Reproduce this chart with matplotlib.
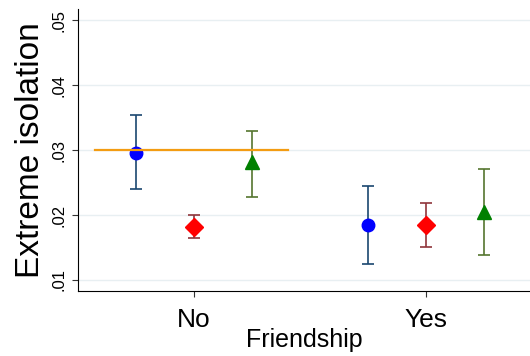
import matplotlib
matplotlib.use("Agg")
import matplotlib.pyplot as plt
import numpy as np

plt.rcParams['font.family'] = ['Liberation Sans', 'DejaVu Sans']

# data
categories = ["No", "Yes"]
offsets = [-0.25, 0.0, 0.25]
means = [
    [0.0296, 0.0185],   # blue circles
    [0.0182, 0.0185],   # red diamonds
    [0.0281, 0.0204],   # green triangles
]
lower = [
    [0.0240, 0.0124],
    [0.0164, 0.0150],
    [0.0227, 0.0138],
]
upper = [
    [0.0354, 0.0244],
    [0.0200, 0.0218],
    [0.0329, 0.0271],
]
ref_line_y = 0.030
ref_line_x = [-0.425, 0.405]

marker_colors = ["#0000ff", "#ff0000", "#008000"]
bar_colors = ["#1a476f", "#90353b", "#55752f"]
markers = ["o", "D", "^"]
msizes = [9, 9, 10]

fig = plt.figure(figsize=(5.3, 3.56), dpi=100)
ax = fig.add_axes([78 / 530, 1 - 291 / 356, 1 - 78 / 530, (291 - 9) / 356])

x = np.arange(len(categories))
for i in range(3):
    m = np.array(means[i])
    err = [m - np.array(lower[i]), np.array(upper[i]) - m]
    ax.errorbar(x + offsets[i], m, yerr=err, fmt="none", ecolor=bar_colors[i],
                elinewidth=1.2, capsize=4, capthick=1.2, zorder=2)
    ax.plot(x + offsets[i], m, linestyle="none", marker=markers[i], color=marker_colors[i],
            markersize=msizes[i], zorder=3)

ax.plot(ref_line_x, [ref_line_y, ref_line_y], color="#f39c12", linewidth=1.6, zorder=4)

ax.set_xlim(-0.498, 1.448)
ax.set_ylim(0.0083, 0.0517)
ax.set_yticks([0.01, 0.02, 0.03, 0.04, 0.05])
ax.set_yticklabels([".01", ".02", ".03", ".04", ".05"], rotation=90, va="center", fontsize=12)
ax.set_xticks(x)
ax.set_xticklabels(categories, fontsize=19)
ax.set_xlabel("Friendship", fontsize=18, labelpad=-3)
ax.set_ylabel("Extreme isolation", fontsize=24, labelpad=4)

ax.grid(axis="y", color="#e8eff2", linewidth=1)
ax.set_axisbelow(True)
ax.spines["top"].set_visible(False)
ax.spines["right"].set_visible(False)
ax.tick_params(axis="both", length=4, width=0.8, color="#333333")
ax.tick_params(axis="x", pad=8)
ax.tick_params(axis="y", pad=4)

fig.savefig("out.png", dpi=100)
